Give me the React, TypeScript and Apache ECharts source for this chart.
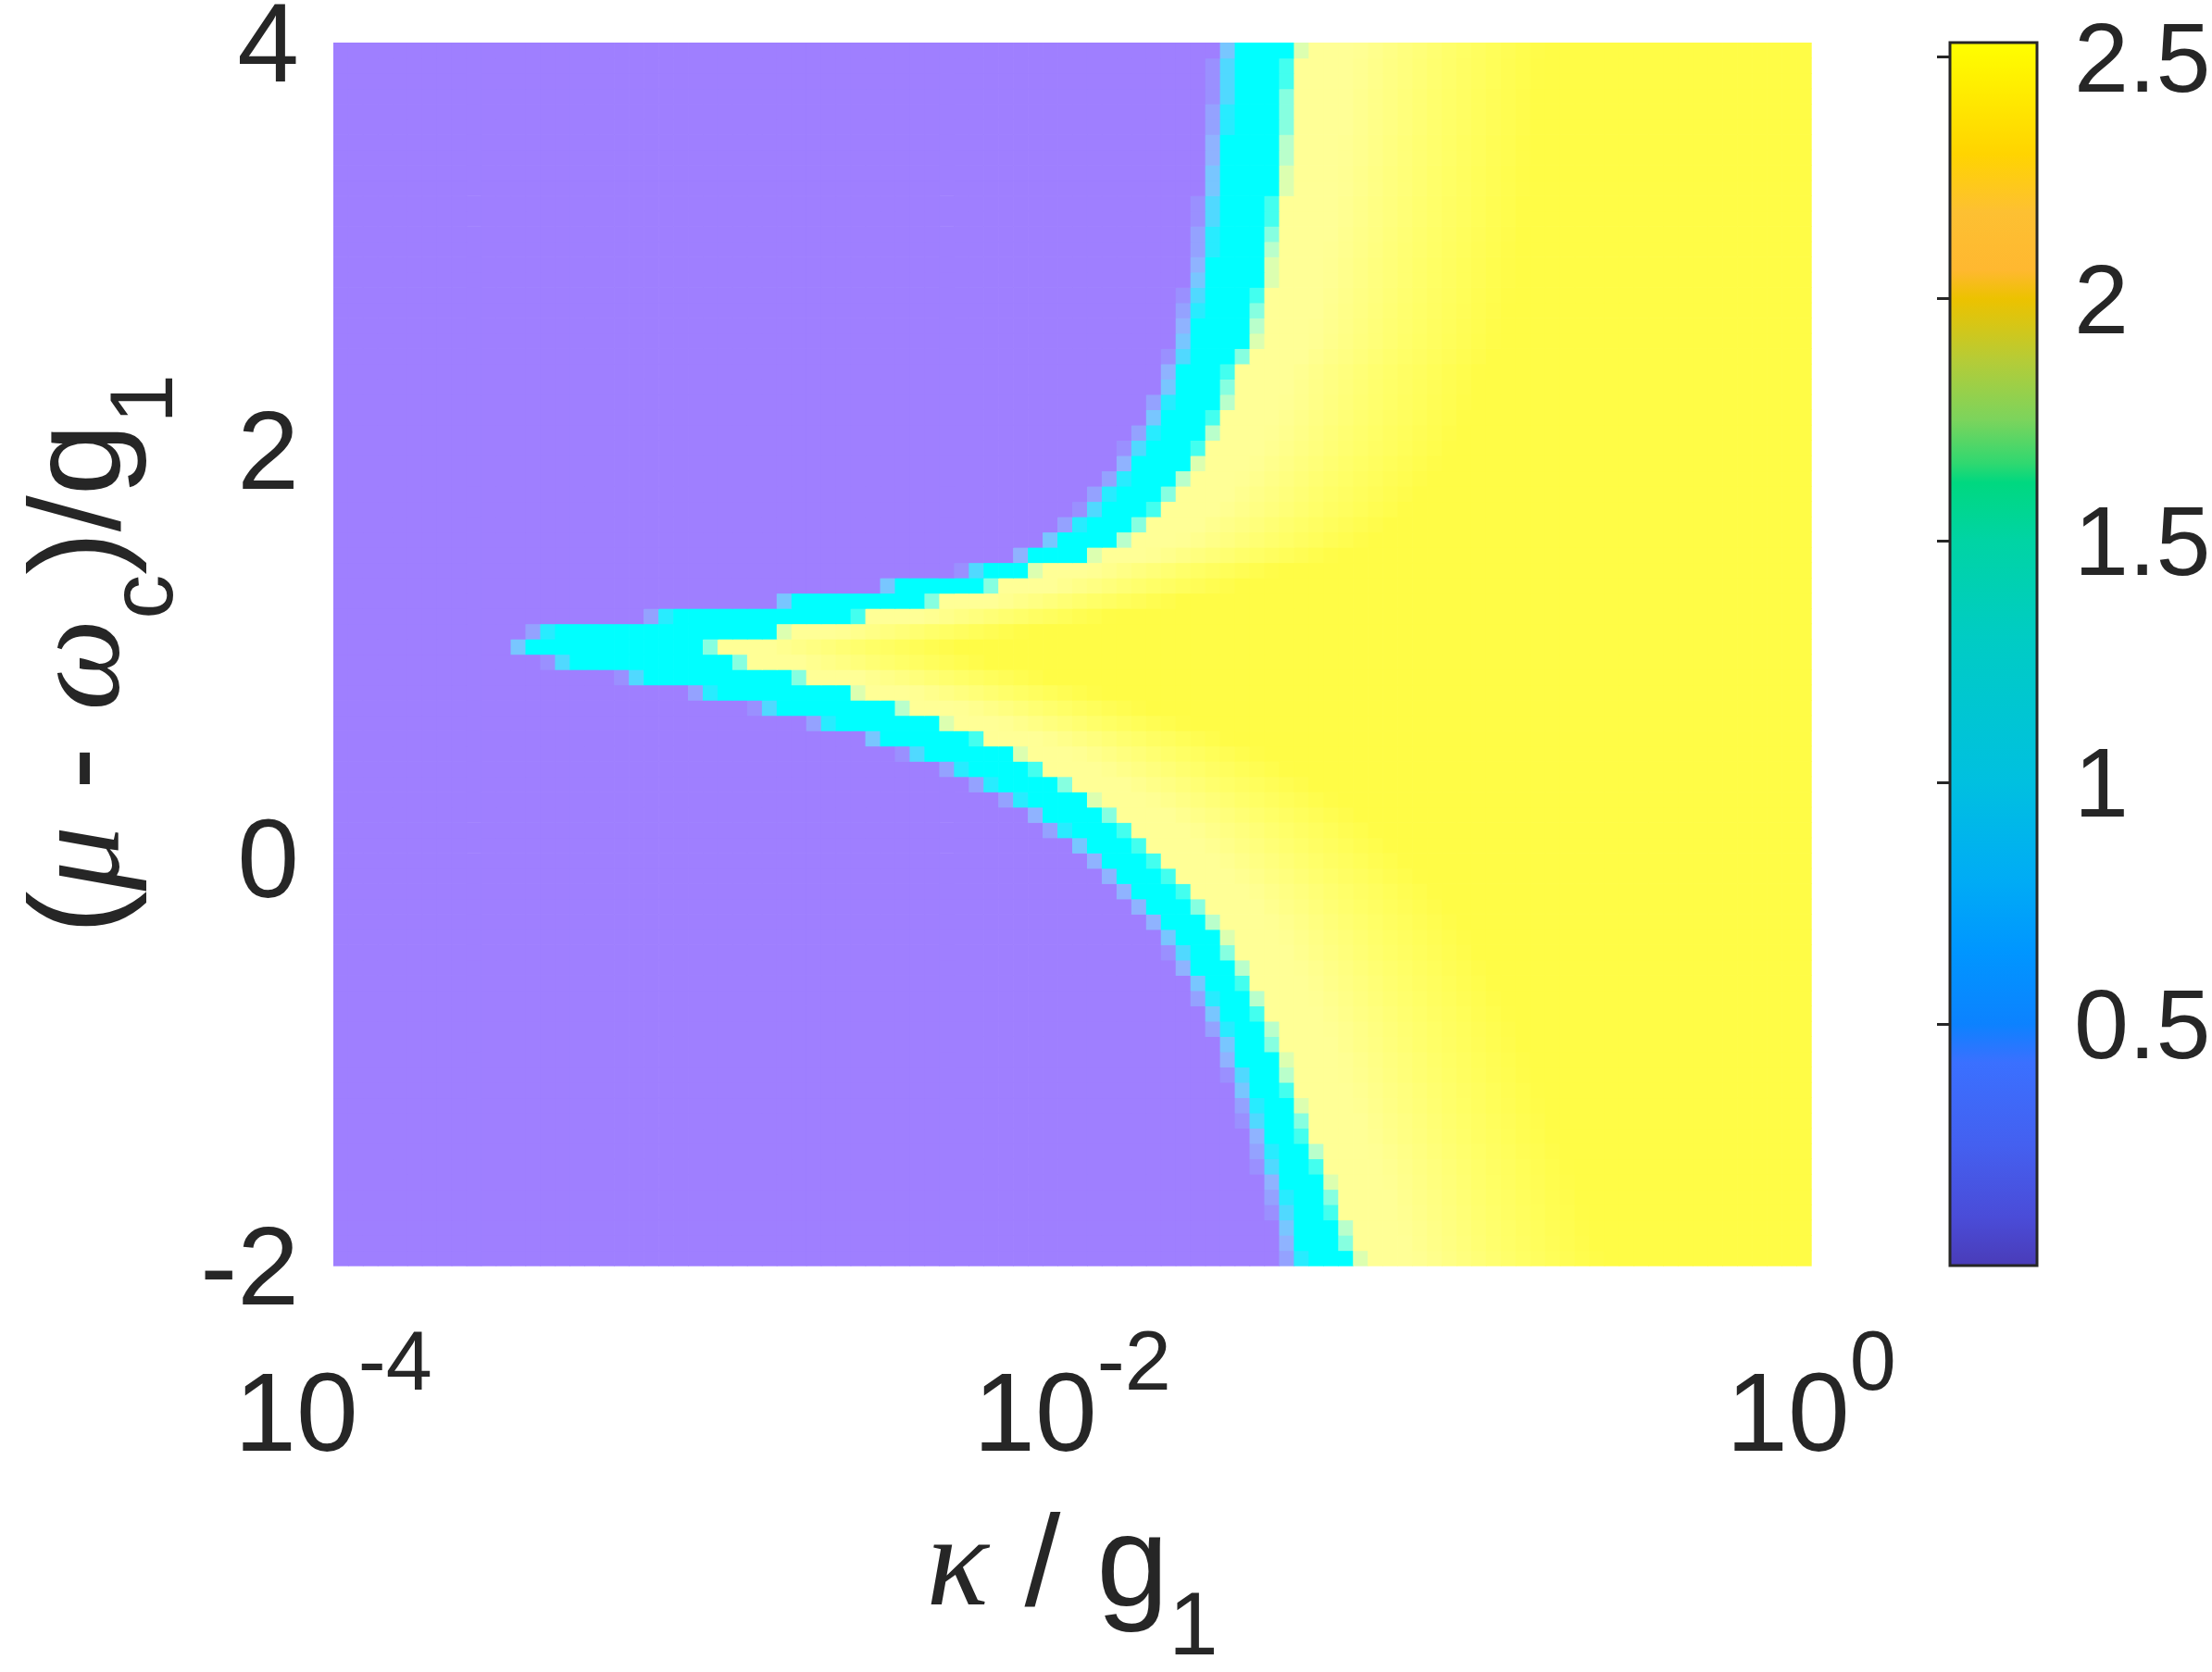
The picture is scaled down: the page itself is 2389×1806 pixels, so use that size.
import React, { useEffect, useRef } from 'react';
import * as echarts from 'echarts';

// ---- grid of the map (log10 kappa/g1 along x, (mu - omega_c)/g1 along y)
const X_MIN = -4;
const X_MAX = 0;
const X_STEP = 0.04;
const MU_MIN = -2;
const MU_MAX = 4;
const MU_STEP = 0.075;

const xTicks = [-4, -2, 0];
const yTicks = [-2, 0, 2, 4];
const cbTicks = [0.5, 1, 1.5, 2, 2.5];
const CB_MIN = 0;
const CB_MAX = 2.53;

// log10(kappa/g1) where the cyan band starts, per row (bottom row first)
const cyanStart = [
  -1.39, -1.40, -1.41, -1.42, -1.43, -1.44, -1.46, -1.47, -1.48, -1.50,
  -1.51, -1.53, -1.54, -1.56, -1.57, -1.59, -1.61, -1.63, -1.65, -1.68,
  -1.70, -1.73, -1.76, -1.80, -1.84, -1.88, -1.92, -1.97, -2.03, -2.08,
  -2.15, -2.23, -2.31, -2.42, -2.53, -2.67, -2.82, -2.99, -3.18, -3.38,
  -3.49, -3.43, -3.11, -2.77, -2.49, -2.26, -2.12, -2.05, -1.99, -1.94,
  -1.91, -1.87, -1.84, -1.82, -1.79, -1.77, -1.75, -1.73, -1.72, -1.70,
  -1.69, -1.68, -1.67, -1.66, -1.65, -1.64, -1.63, -1.63, -1.62, -1.62,
  -1.61, -1.61, -1.60, -1.60, -1.59, -1.59, -1.58, -1.58, -1.58, -1.57,
];

// log10(kappa/g1) where the yellow region starts, per row (bottom row first)
const yellowStart = [
  -1.26, -1.28, -1.29, -1.31, -1.32, -1.34, -1.35, -1.37, -1.39, -1.40,
  -1.42, -1.43, -1.45, -1.46, -1.48, -1.49, -1.51, -1.53, -1.55, -1.57,
  -1.60, -1.62, -1.65, -1.68, -1.71, -1.75, -1.79, -1.83, -1.87, -1.92,
  -1.98, -2.04, -2.11, -2.18, -2.27, -2.38, -2.49, -2.62, -2.76, -2.92,
  -3.00, -2.82, -2.59, -2.40, -2.24, -2.14, -1.98, -1.89, -1.84, -1.79,
  -1.76, -1.73, -1.70, -1.67, -1.65, -1.63, -1.61, -1.60, -1.59, -1.56,
  -1.54, -1.53, -1.52, -1.51, -1.50, -1.50, -1.49, -1.48, -1.47, -1.47,
  -1.46, -1.46, -1.45, -1.45, -1.44, -1.44, -1.44, -1.43, -1.43, -1.42,
];

// colour bar (value -> colour)
const colormapValues = [0, 0.1, 0.25, 0.42, 0.5, 0.65, 0.8, 1.0, 1.3, 1.5, 1.62, 1.66, 1.75, 1.87, 1.95, 2.0, 2.06, 2.18, 2.3, 2.45, 2.53];
const colormapColors = ['#4a3cb8', '#4a4cd8', '#4460f0', '#3a70ff', '#0c82ff', '#0096ff', '#00acf5', '#00c0e0', '#00ccc4', '#00d4a4', '#00d880', '#30d870', '#7cd45c', '#b4cc38', '#d8c614', '#ecc200', '#ffb830', '#fdc032', '#ffd400', '#fff000', '#ffff00'];

// colours of the map levels 0 .. 3
const fieldColors = ['#9f7fff', '#8cbcff', '#00ffff', '#a8ffd8', '#ffff96', '#ffff6a', '#fffc46'];

const TXT = '#262626';

function cellLevel(L: number, a: number, b: number): number {
  if (L < a - 0.05) return 0;
  if (L < a + 0.02) return (L - (a - 0.05)) / 0.07;
  if (L < b) return 1;
  const d = L - b;
  if (d < 0.05) return 1 + d / 0.05;
  if (d < 0.18) return 2;
  if (d < 0.7) return 2 + (d - 0.18) / 0.52;
  return 3;
}

function buildCells() {
  const rows = Math.round((MU_MAX - MU_MIN) / MU_STEP);
  const cols = Math.round((X_MAX - X_MIN) / X_STEP);
  const out: number[][] = [];
  for (let i = 0; i < rows; i++) {
    const m0 = MU_MIN + i * MU_STEP;
    const m1 = m0 + MU_STEP;
    for (let j = 0; j < cols; j++) {
      const l0 = X_MIN + j * X_STEP;
      const l1 = l0 + X_STEP;
      out.push([l0, l1, m0, m1, cellLevel((l0 + l1) / 2, cyanStart[i], yellowStart[i])]);
    }
  }
  return out;
}

export default function App() {
  const ref = useRef<HTMLDivElement>(null);
  useEffect(() => {
    document.body.style.margin = '0';
    if (!ref.current) return;
    const chart = echarts.init(ref.current, undefined, { renderer: 'svg' });
    const cells = buildCells();
    const stops = colormapValues.map((v, k) => ({ offset: (v - CB_MIN) / (CB_MAX - CB_MIN), color: colormapColors[k] }));
    const base = 'Liberation Sans';
    const greek = 'Liberation Serif';
    chart.setOption({
      animation: false,
      backgroundColor: '#ffffff',
      textStyle: { fontFamily: base, color: TXT },
      grid: [
        { left: 360, top: 46, width: 1596, height: 1321, containLabel: false, outerBoundsMode: 'none' },
        { left: 2106, top: 46, width: 94, height: 1321, containLabel: false, outerBoundsMode: 'none' },
      ],
      xAxis: [
        {
          type: 'value', gridIndex: 0, min: X_MIN, max: X_MAX, interval: 2,
          axisLine: { show: false }, axisTick: { show: false }, splitLine: { show: false },
          axisLabel: {
            margin: 58,
            formatter: (v: number) => (xTicks.includes(v) ? `{b|10}{s|${v}}` : ''),
            rich: {
              b: { fontSize: 120, fontFamily: base, color: TXT, lineHeight: 200, verticalAlign: 'middle' },
              s: { fontSize: 90, fontFamily: base, color: TXT, lineHeight: 90, verticalAlign: 'top' },
            },
          },
          name: '{k|κ}{n| / g}{sub|1}',
          nameLocation: 'middle',
          nameGap: 248,
          nameTextStyle: {
            rich: {
              k: { fontSize: 140, fontFamily: greek, fontStyle: 'italic', color: TXT, lineHeight: 140, verticalAlign: 'top' },
              n: { fontSize: 140, fontFamily: base, color: TXT, lineHeight: 140, verticalAlign: 'top' },
              sub: { fontSize: 96, fontFamily: base, color: TXT, lineHeight: 186, verticalAlign: 'bottom' },
            },
          },
        },
        { type: 'value', gridIndex: 1, min: 0, max: 1, show: false },
      ],
      yAxis: [
        {
          type: 'value', gridIndex: 0, min: MU_MIN, max: MU_MAX, interval: 2,
          axisLine: { show: false }, axisTick: { show: false }, splitLine: { show: false },
          axisLabel: {
            margin: 37, fontSize: 120, lineHeight: 72, color: TXT, fontFamily: base, padding: [14, 0, 0, 0],
            formatter: (v: number) => (yTicks.includes(v) ? String(v) : ''),
          },
          name: '{n|(}{g|μ}{n| - }{g|ω}{sub|c}{n|)/g}{sub|1}',
          nameLocation: 'middle',
          nameRotate: 90,
          nameGap: 160,
          nameTextStyle: {
            rich: {
              g: { fontSize: 140, fontFamily: greek, fontStyle: 'italic', color: TXT, lineHeight: 140, verticalAlign: 'top' },
              n: { fontSize: 140, fontFamily: base, color: TXT, lineHeight: 140, verticalAlign: 'top' },
              sub: { fontSize: 96, fontFamily: base, color: TXT, lineHeight: 190, verticalAlign: 'bottom' },
            },
          },
        },
        {
          type: 'value', gridIndex: 1, min: CB_MIN, max: CB_MAX, position: 'right', z: 10,
          axisLine: { show: false }, splitLine: { show: false },
          axisTick: { show: true, inside: true, length: 14, customValues: cbTicks, lineStyle: { color: TXT, width: 3 } },
          axisLabel: {
            margin: 40, fontSize: 106, color: TXT, fontFamily: base, customValues: cbTicks,
            formatter: (v: number) => (cbTicks.some((t) => Math.abs(t - v) < 1e-6) ? String(v) : ''),
          },
        },
      ],
      visualMap: [
        { type: 'continuous', show: false, seriesIndex: 0, dimension: 4, min: 0, max: 3, inRange: { color: fieldColors } },
      ],
      series: [
        {
          type: 'custom', xAxisIndex: 0, yAxisIndex: 0, clip: true,
          encode: { x: [0, 1], y: [2, 3] },
          data: cells,
          renderItem: (_p: any, api: any) => {
            const a = api.coord([api.value(0), api.value(3)]);
            const b = api.coord([api.value(1), api.value(2)]);
            return {
              type: 'rect',
              shape: { x: a[0], y: a[1], width: b[0] - a[0] + 0.7, height: b[1] - a[1] + 0.7 },
              style: { fill: api.visual('color') },
            };
          },
        },
        {
          type: 'custom', xAxisIndex: 1, yAxisIndex: 1, z: 3,
          data: [[0, 1, CB_MIN, CB_MAX]],
          renderItem: (_p: any, api: any) => {
            const a = api.coord([api.value(0), api.value(3)]);
            const b = api.coord([api.value(1), api.value(2)]);
            return {
              type: 'rect',
              shape: { x: a[0], y: a[1], width: b[0] - a[0], height: b[1] - a[1] },
              style: { fill: new echarts.graphic.LinearGradient(0, 1, 0, 0, stops), stroke: TXT, lineWidth: 3 },
            };
          },
        },
      ],
    });
    return () => chart.dispose();
  }, []);
  return <div ref={ref} style={{ width: 2389, height: 1806 }} />;
}
